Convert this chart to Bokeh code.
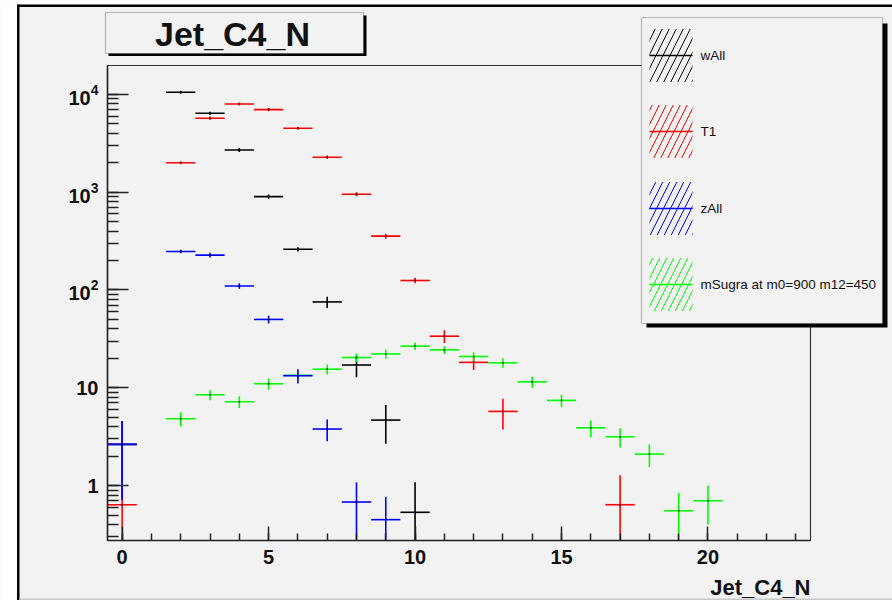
from bokeh.plotting import figure
from bokeh.models import (BoxAnnotation, Label, LogAxis, LinearAxis, LogTicker,
                          LogTickFormatter, SingleIntervalTicker, ColumnDataSource)
from bokeh.embed import file_html
from bokeh.resources import INLINE
import math

# Jet_C4_N bins (bin centres) and weighted entries with their errors
wall_n = [0, 2, 3, 4, 5, 6, 7, 8, 9, 10]
wall_val = [2.64, 10500, 6400, 2700, 900, 261, 75.5, 17.1, 4.68, 0.534]
wall_err = [1.93, 370, 250, 130, 45, 13, 10, 4.3, 2.0, 0.55]

t1_n = [0, 2, 3, 4, 5, 6, 7, 8, 9, 10, 11, 12, 13, 17]
t1_val = [0.638, 2000, 5690, 7960, 6980, 4500, 2275, 952, 355, 125, 33.7, 18.2, 5.74, 0.638]
t1_err = [0.638, 70, 230, 280, 250, 160, 90, 45, 21, 8, 5, 3, 2.0, 0.638]

zall_n = [0, 2, 3, 4, 5, 6, 7, 8, 9]
zall_val = [2.64, 247, 227, 110, 50, 13.3, 3.79, 0.68, 0.449]
zall_err = [1.93, 10, 12.5, 7, 4.5, 2.2, 0.95, 0.4, 0.32]

msugra_n = [2, 3, 4, 5, 6, 7, 8, 9, 10, 11, 12, 13, 14, 15, 16, 17, 18, 19, 20]
msugra_val = [4.82, 8.48, 7.2, 11.0, 13.4, 15.5, 20.4, 22.2, 26.7, 24.4, 20.9,
              18.0, 11.5, 7.44, 3.90, 3.16, 2.10, 0.554, 0.701]
msugra_err = [0.8, 1.0, 1.0, 1.45, 1.45, 1.85, 2.0, 2.4, 2.3, 2.2, 2.2,
              2.0, 1.5, 1.1, 0.77, 0.7, 0.55, 0.29, 0.3]

legend_names = ["wAll", "T1", "zAll", "mSugra at m0=900 m12=450"]
legend_colors = ["#000000", "#ff0000", "#0000ff", "#00ff00"]

# histogram axis limits
X_LO, X_HI = -0.5, 23.5
Y_LO, Y_HI = 0.275, 19700
BIN_W = 1.0

BG = "#f2f2f2"
FONT = "Liberation Sans"
W, H = 892, 600
# pad (canvas px) around the histogram frame
FL, FR, FT, FB = 107, 810, 65, 540

# The figure frame spans the whole canvas; the ranges are widened so the
# histogram frame lands at FL..FR, FT..FB and the pad holds the decorations.
xs = (X_HI - X_LO) / (FR - FL)
x_start = X_LO - FL * xs
x_end = X_HI + (W - FR) * xs
ly = (math.log10(Y_HI) - math.log10(Y_LO)) / (FB - FT)
y_start = 10 ** (math.log10(Y_LO) - (H - FB) * ly)
y_end = 10 ** (math.log10(Y_HI) + FT * ly)

p = figure(frame_width=W, frame_height=H, min_border=0,
           x_range=(x_start, x_end), y_range=(y_start, y_end),
           y_axis_type="log", x_axis_location=None, y_axis_location=None,
           output_backend="svg", toolbar_location=None,
           background_fill_color=BG, border_fill_color=BG,
           outline_line_color=None)
p.grid.visible = False

# axes pinned to the histogram frame, ROOT style with ticks pointing inward
yax = LogAxis(fixed_location=X_LO, bounds=(Y_LO, Y_HI),
              ticker=LogTicker(num_minor_ticks=10),
              formatter=LogTickFormatter(),
              major_label_overrides={1: "1", 10: "10"})
xax = LinearAxis(fixed_location=Y_LO, bounds=(X_LO, X_HI),
                 ticker=SingleIntervalTicker(interval=5, num_minor_ticks=5))
for ax in (xax, yax):
    ax.axis_line_color = "#222222"
    ax.axis_line_width = 1.5
    ax.major_tick_line_color = "#222222"
    ax.minor_tick_line_color = "#222222"
    ax.major_tick_line_width = 1.5
    ax.minor_tick_line_width = 1.5
    ax.major_tick_out = 0
    ax.minor_tick_out = 0
    ax.major_label_text_font = FONT
    ax.major_label_text_font_style = "bold"
    ax.major_label_text_font_size = "20px"
    ax.major_label_text_color = "#111111"
    ax.major_label_standoff = 9
yax.major_tick_in = 21
yax.minor_tick_in = 11
xax.major_tick_in = 14
xax.minor_tick_in = 7
p.add_layout(yax, "left")
p.add_layout(xax, "below")

# top and right edges of the histogram frame
p.quad(left=[X_LO], right=[X_HI], bottom=[Y_LO], top=[Y_HI],
       fill_color=None, line_color="#333333", line_width=1.2)


def draw_series(n, val, err, color):
    lo = [max(v - e, Y_LO) for v, e in zip(val, err)]
    hi = [v + e for v, e in zip(val, err)]
    src = ColumnDataSource(dict(
        x=n, left=[k - BIN_W / 2 for k in n], right=[k + BIN_W / 2 for k in n],
        y=val, lo=lo, hi=hi))
    p.segment(x0="left", x1="right", y0="y", y1="y", source=src,
              line_color=color, line_width=1.6)
    p.segment(x0="x", x1="x", y0="lo", y1="hi", source=src,
              line_color=color, line_width=1.6)
    p.scatter(x="x", y="y", source=src, marker="square", size=1.5,
              color="black", line_width=0)


draw_series(wall_n, wall_val, wall_err, legend_colors[0])
draw_series(t1_n, t1_val, t1_err, legend_colors[1])
draw_series(msugra_n, msugra_val, msugra_err, legend_colors[3])
draw_series(zall_n, zall_val, zall_err, legend_colors[2])


# decorations placed in canvas pixels (origin top-left)
def box(x0, y0, x1, y1, **kw):
    b = BoxAnnotation(left=x0, right=x1, top=H - y0, bottom=H - y1,
                      left_units="screen", right_units="screen",
                      top_units="screen", bottom_units="screen", **kw)
    p.add_layout(b)
    return b


def text(X, Y, s, size, style="normal", align="left", baseline="middle"):
    p.add_layout(Label(x=X, y=H - Y, x_units="screen", y_units="screen",
                       text=s, text_font=FONT, text_font_size=size,
                       text_font_style=style, text_align=align,
                       text_baseline=baseline, text_color="#111111"))


# canvas edge: white margin and bevelled border
box(0, 0, W, 4, fill_color="white", fill_alpha=1, line_alpha=0)
box(0, 0, 17, H, fill_color="white", fill_alpha=1, line_alpha=0)
box(17, 4, W, 6.5, fill_color="black", fill_alpha=1, line_alpha=0)
box(16.5, 4, 19, H, fill_color="black", fill_alpha=1, line_alpha=0)
box(19, 598, W, 599.5, fill_color="#c8c8c8", fill_alpha=1, line_alpha=0)

# title box with shadow
box(108, 15, 366, 55.5, fill_color="black", fill_alpha=1, line_alpha=0)
box(105, 12, 363, 53, fill_color=BG, fill_alpha=1, line_color="#222222",
    line_width=1.2)
text(232, 33, "Jet_C4_N", "34px", style="bold", align="center")

# x axis title, right aligned at the end of the axis
text(FR, 587, "Jet_C4_N", "22px", style="bold", align="right",
     baseline="alphabetic")

# legend with shadow
box(646, 23, 887, 327, fill_color="black", fill_alpha=1, line_alpha=0)
box(641, 17, 882, 323, fill_color=BG, fill_alpha=1, line_color="#333333",
    line_width=1.2)
entry_y = [55, 131, 208, 284]
for name, color, yc in zip(legend_names, legend_colors, entry_y):
    box(649, yc - 26.5, 692, yc + 26.5, fill_color=None, line_alpha=0,
        hatch_pattern="/", hatch_color=color, hatch_scale=14, hatch_weight=1)
    box(649, yc - 0.7, 692, yc + 0.7, fill_color=color, fill_alpha=1,
        line_alpha=0)
    text(700, yc, name, "13.5px")

open("out.html", "w").write(file_html(p, INLINE))
